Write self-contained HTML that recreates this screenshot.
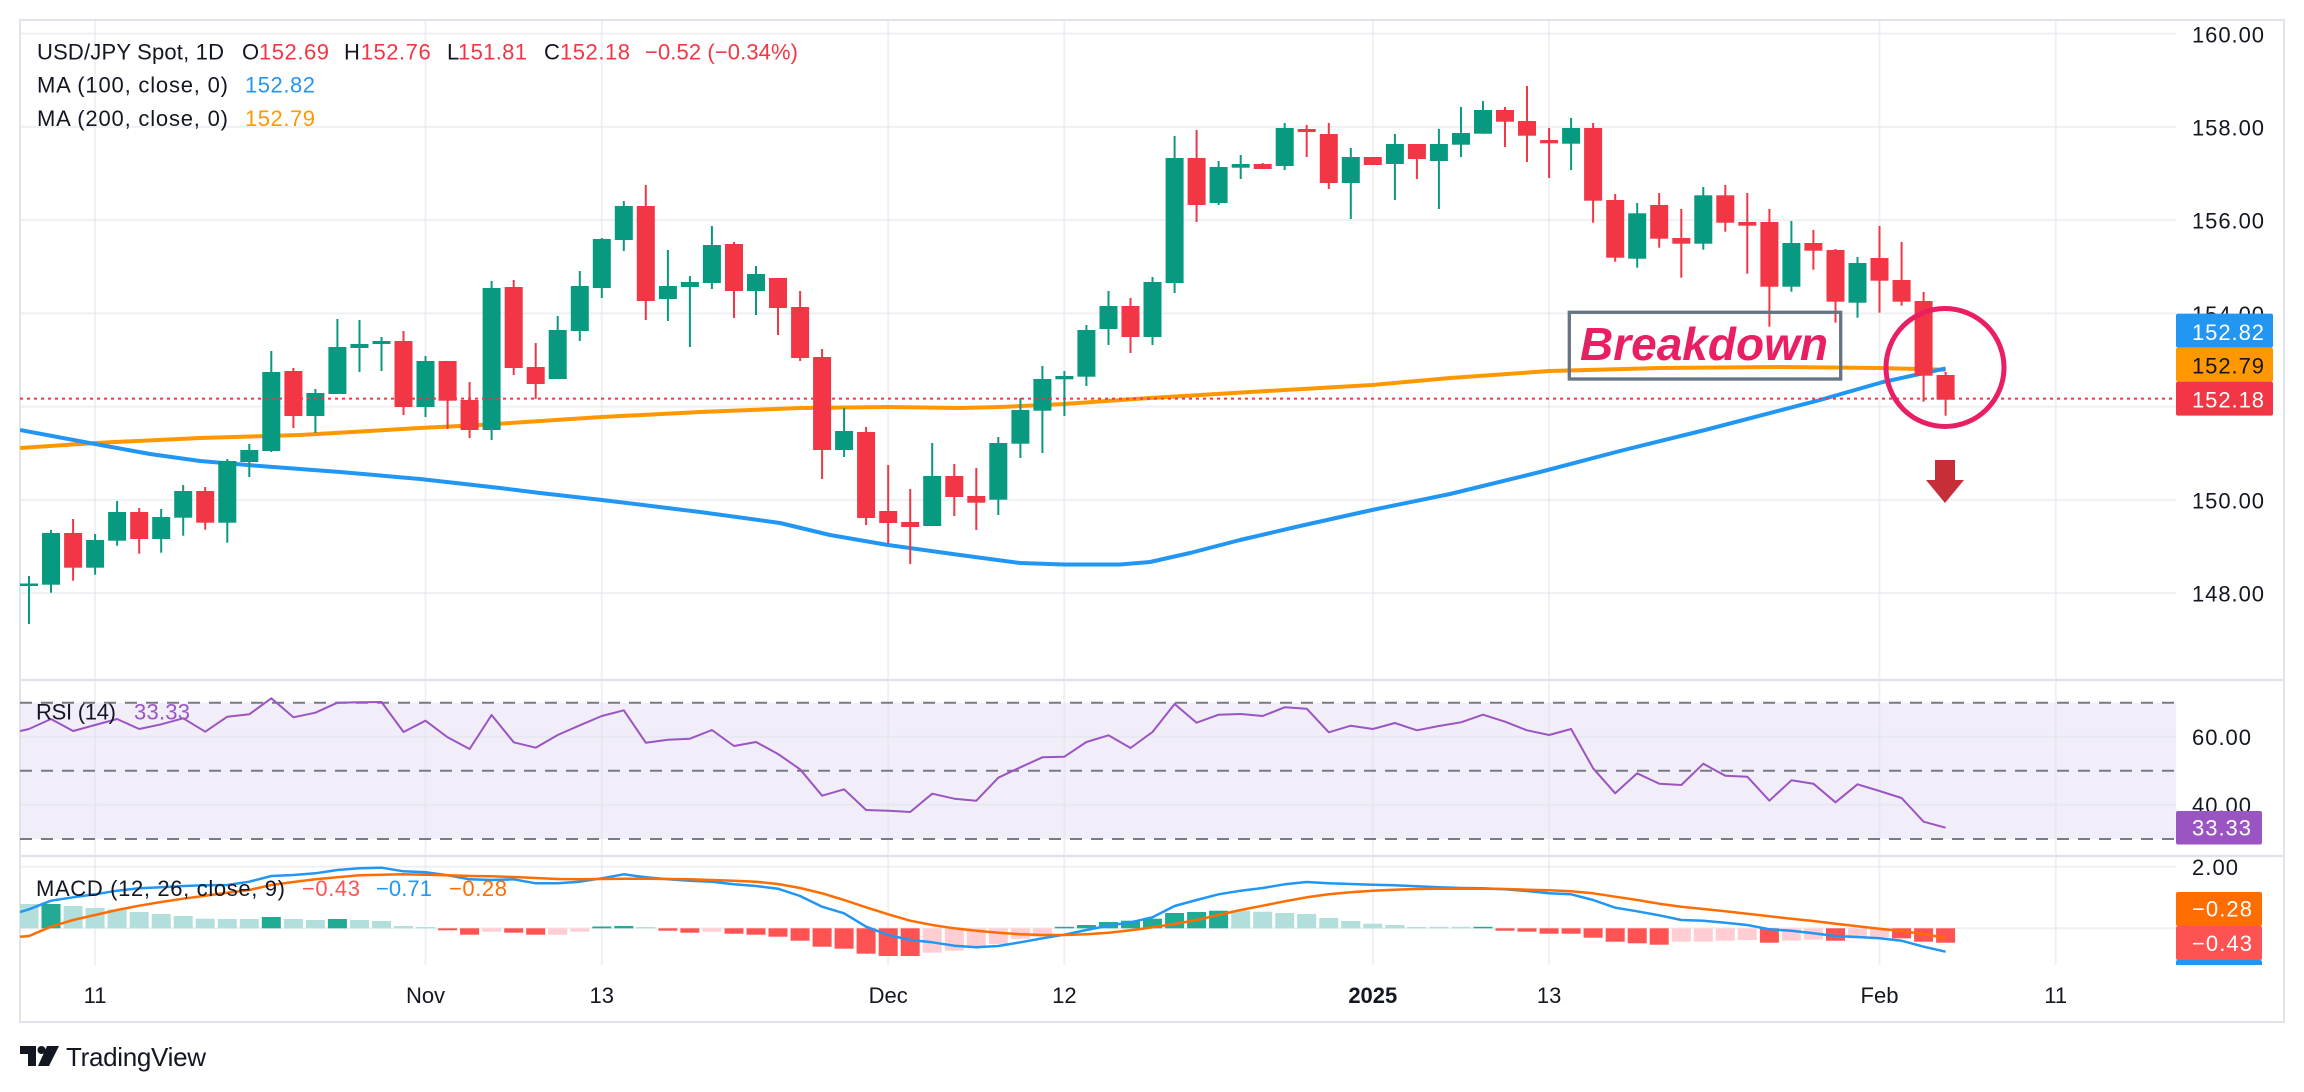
<!DOCTYPE html>
<html><head><meta charset="utf-8"><style>html,body{margin:0;padding:0;background:#fff;width:2304px;height:1092px;overflow:hidden}svg{display:block}</style></head><body>
<svg width="2304" height="1092" viewBox="0 0 2304 1092" xmlns="http://www.w3.org/2000/svg" font-family="'Liberation Sans', Arial, sans-serif">
<defs>
<clipPath id="cm"><rect x="20" y="20" width="2156" height="660"/></clipPath>
<clipPath id="cr"><rect x="20" y="681" width="2156" height="174"/></clipPath>
<clipPath id="cd"><rect x="20" y="857" width="2156" height="108"/></clipPath>
<clipPath id="cdl"><rect x="2176" y="857" width="110" height="108"/></clipPath>
</defs>
<rect width="2304" height="1092" fill="#fff"/>
<!-- RSI fill -->
<rect x="20" y="702.7" width="2156" height="136.3" fill="#f1edf9"/>
<!-- grid -->
<g stroke="#e0e3eb" stroke-opacity="0.55" stroke-width="2">
<line x1="20" y1="33.6" x2="2176" y2="33.6"/><line x1="20" y1="126.9" x2="2176" y2="126.9"/><line x1="20" y1="220.1" x2="2176" y2="220.1"/><line x1="20" y1="313.4" x2="2176" y2="313.4"/><line x1="20" y1="406.6" x2="2176" y2="406.6"/><line x1="20" y1="499.9" x2="2176" y2="499.9"/><line x1="20" y1="593.1" x2="2176" y2="593.1"/>
<line x1="20" y1="736.7" x2="2176" y2="736.7"/><line x1="20" y1="804.7" x2="2176" y2="804.7"/>
<line x1="20" y1="866.7" x2="2176" y2="866.7"/><line x1="20" y1="928.3" x2="2176" y2="928.3"/>
<line x1="95.1" y1="20" x2="95.1" y2="965"/><line x1="425.5" y1="20" x2="425.5" y2="965"/><line x1="601.8" y1="20" x2="601.8" y2="965"/><line x1="888.2" y1="20" x2="888.2" y2="965"/><line x1="1064.4" y1="20" x2="1064.4" y2="965"/><line x1="1372.8" y1="20" x2="1372.8" y2="965"/><line x1="1549.1" y1="20" x2="1549.1" y2="965"/><line x1="1879.5" y1="20" x2="1879.5" y2="965"/><line x1="2055.7" y1="20" x2="2055.7" y2="965"/>
</g>
<!-- frame & separators -->
<rect x="20" y="20" width="2264" height="1002" fill="none" stroke="#e0e3eb" stroke-width="2"/>
<line x1="20" y1="680" x2="2284" y2="680" stroke="#e0e3eb" stroke-width="2.5"/>
<line x1="20" y1="856" x2="2284" y2="856" stroke="#e0e3eb" stroke-width="2.5"/>

<!-- MAIN PANE -->
<g clip-path="url(#cm)">
<polyline fill="none" stroke="#ff9800" stroke-width="4" stroke-linejoin="round" points="20,448 95,443 200,438 300,435 420,428 480,425 602,417 700,412 800,408 888,407 960,408 1000,407 1064,404 1150,398 1250,392 1372,385 1450,378 1549,371 1660,368 1780,367 1880,368 1945.6,369.8"/>
<polyline fill="none" stroke="#2196f3" stroke-width="4" stroke-linejoin="round" points="20,430 95,444 150,454 200,461 260,466 340,472 420,479 500,488 540,493 602,500 700,512 780,523 830,535 888,545 960,555 1020,563 1064,564.5 1120,564.5 1150,562 1190,553 1240,540 1300,526 1372,510 1450,494 1540,472 1620,451 1705,430 1820,400 1883,382 1945.6,368.4"/>
<g fill="#089981">
<rect x="28" y="576" width="2" height="48"/><rect x="20" y="583.5" width="18" height="2.5"/>
<rect x="50" y="530" width="2" height="62.7"/><rect x="42" y="533" width="18" height="51.7"/>
<rect x="94.1" y="534" width="2" height="40.7"/><rect x="86.1" y="540" width="18" height="27.7"/>
<rect x="116.1" y="501" width="2" height="44.7"/><rect x="108.1" y="512" width="18" height="28.7"/>
<rect x="160.2" y="509" width="2" height="43.7"/><rect x="152.2" y="517" width="18" height="22"/>
<rect x="182.2" y="485" width="2" height="50.7"/><rect x="174.2" y="491" width="18" height="26.7"/>
<rect x="226.3" y="459" width="2" height="83.7"/><rect x="218.3" y="461" width="18" height="61.7"/>
<rect x="248.3" y="444" width="2" height="33"/><rect x="240.3" y="450" width="18" height="12"/>
<rect x="270.3" y="351" width="2" height="101"/><rect x="262.3" y="372" width="18" height="79"/>
<rect x="314.4" y="389" width="2" height="44"/><rect x="306.4" y="393" width="18" height="23"/>
<rect x="336.4" y="319" width="2" height="75"/><rect x="328.4" y="347" width="18" height="47"/>
<rect x="358.5" y="320" width="2" height="52"/><rect x="350.5" y="344" width="18" height="4"/>
<rect x="380.5" y="337" width="2" height="34"/><rect x="372.5" y="341" width="18" height="3"/>
<rect x="424.5" y="356" width="2" height="61"/><rect x="416.5" y="361" width="18" height="46"/>
<rect x="490.6" y="281" width="2" height="159"/><rect x="482.6" y="288" width="18" height="142"/>
<rect x="556.7" y="316" width="2" height="63"/><rect x="548.7" y="330" width="18" height="49"/>
<rect x="578.8" y="271" width="2" height="70"/><rect x="570.8" y="286" width="18" height="45"/>
<rect x="600.8" y="238" width="2" height="60"/><rect x="592.8" y="239" width="18" height="49"/>
<rect x="622.8" y="201" width="2" height="50"/><rect x="614.8" y="206" width="18" height="34"/>
<rect x="666.9" y="250" width="2" height="71"/><rect x="658.9" y="286" width="18" height="13"/>
<rect x="688.9" y="276" width="2" height="71"/><rect x="680.9" y="282" width="18" height="5"/>
<rect x="710.9" y="226" width="2" height="63"/><rect x="702.9" y="245" width="18" height="38"/>
<rect x="755" y="266" width="2" height="49"/><rect x="747" y="274" width="18" height="17"/>
<rect x="843.1" y="408" width="2" height="49"/><rect x="835.1" y="431" width="18" height="19"/>
<rect x="931.2" y="443" width="2" height="83"/><rect x="923.2" y="476" width="18" height="50"/>
<rect x="997.3" y="437" width="2" height="78"/><rect x="989.3" y="443" width="18" height="56.7"/>
<rect x="1019.4" y="398" width="2" height="60"/><rect x="1011.4" y="410" width="18" height="33.7"/>
<rect x="1041.4" y="366" width="2" height="87"/><rect x="1033.4" y="379" width="18" height="31.7"/>
<rect x="1063.4" y="371" width="2" height="45"/><rect x="1055.4" y="376" width="18" height="3.3"/>
<rect x="1085.4" y="325" width="2" height="61"/><rect x="1077.4" y="330" width="18" height="46.7"/>
<rect x="1107.5" y="291" width="2" height="54"/><rect x="1099.5" y="306" width="18" height="23"/>
<rect x="1151.5" y="277" width="2" height="68"/><rect x="1143.5" y="282" width="18" height="55"/>
<rect x="1173.6" y="136" width="2" height="157"/><rect x="1165.6" y="158" width="18" height="125"/>
<rect x="1217.6" y="161" width="2" height="44"/><rect x="1209.6" y="167" width="18" height="36"/>
<rect x="1239.7" y="155" width="2" height="24"/><rect x="1231.7" y="164" width="18" height="3.7"/>
<rect x="1283.7" y="123" width="2" height="47"/><rect x="1275.7" y="128" width="18" height="38"/>
<rect x="1349.8" y="148" width="2" height="71"/><rect x="1341.8" y="157" width="18" height="26"/>
<rect x="1393.9" y="134" width="2" height="66"/><rect x="1385.9" y="144" width="18" height="20"/>
<rect x="1437.9" y="129" width="2" height="80"/><rect x="1429.9" y="144" width="18" height="17"/>
<rect x="1460" y="107" width="2" height="50"/><rect x="1452" y="133" width="18" height="11.7"/>
<rect x="1482" y="101" width="2" height="32.7"/><rect x="1474" y="110" width="18" height="23.7"/>
<rect x="1570.1" y="118" width="2" height="52"/><rect x="1562.1" y="128" width="18" height="15.7"/>
<rect x="1636.2" y="203" width="2" height="64.7"/><rect x="1628.2" y="213.3" width="18" height="45.4"/>
<rect x="1702.3" y="187" width="2" height="62.7"/><rect x="1694.3" y="195.3" width="18" height="48.4"/>
<rect x="1790.4" y="221" width="2" height="70.7"/><rect x="1782.4" y="243" width="18" height="43.7"/>
<rect x="1856.5" y="257" width="2" height="60.7"/><rect x="1848.5" y="263" width="18" height="39.7"/>
</g>
<g fill="#f23645">
<rect x="72.1" y="519" width="2" height="61.7"/><rect x="64.1" y="533" width="18" height="34.7"/>
<rect x="138.2" y="508" width="2" height="45.7"/><rect x="130.2" y="512" width="18" height="27"/>
<rect x="204.2" y="487" width="2" height="42.7"/><rect x="196.2" y="491" width="18" height="31.7"/>
<rect x="292.4" y="368" width="2" height="60"/><rect x="284.4" y="371" width="18" height="45"/>
<rect x="402.5" y="331" width="2" height="84"/><rect x="394.5" y="341" width="18" height="66"/>
<rect x="446.6" y="361" width="2" height="68"/><rect x="438.6" y="361" width="18" height="39.7"/>
<rect x="468.6" y="382" width="2" height="56"/><rect x="460.6" y="400" width="18" height="30"/>
<rect x="512.7" y="280" width="2" height="95"/><rect x="504.7" y="287" width="18" height="81"/>
<rect x="534.7" y="343" width="2" height="56"/><rect x="526.7" y="367" width="18" height="17"/>
<rect x="644.8" y="185" width="2" height="135"/><rect x="636.8" y="206" width="18" height="95"/>
<rect x="733" y="242" width="2" height="76"/><rect x="725" y="244" width="18" height="47"/>
<rect x="777" y="278" width="2" height="57"/><rect x="769" y="278" width="18" height="30"/>
<rect x="799.1" y="291" width="2" height="70"/><rect x="791.1" y="307" width="18" height="51"/>
<rect x="821.1" y="349" width="2" height="130"/><rect x="813.1" y="357" width="18" height="93"/>
<rect x="865.1" y="427" width="2" height="98"/><rect x="857.1" y="432" width="18" height="86"/>
<rect x="887.2" y="465" width="2" height="79"/><rect x="879.2" y="511" width="18" height="12"/>
<rect x="909.2" y="489" width="2" height="75"/><rect x="901.2" y="522" width="18" height="5"/>
<rect x="953.3" y="464" width="2" height="52"/><rect x="945.3" y="476" width="18" height="21"/>
<rect x="975.3" y="468" width="2" height="62"/><rect x="967.3" y="496" width="18" height="6.7"/>
<rect x="1129.5" y="298" width="2" height="55"/><rect x="1121.5" y="306" width="18" height="31"/>
<rect x="1195.6" y="130" width="2" height="92"/><rect x="1187.6" y="158" width="18" height="47"/>
<rect x="1261.7" y="163" width="2" height="6"/><rect x="1253.7" y="164" width="18" height="5"/>
<rect x="1305.7" y="125" width="2" height="32"/><rect x="1297.7" y="129" width="18" height="3"/>
<rect x="1327.8" y="123" width="2" height="66"/><rect x="1319.8" y="134" width="18" height="49"/>
<rect x="1371.8" y="157" width="2" height="8"/><rect x="1363.8" y="157" width="18" height="8"/>
<rect x="1415.9" y="144" width="2" height="35"/><rect x="1407.9" y="144" width="18" height="15"/>
<rect x="1504" y="107" width="2" height="40"/><rect x="1496" y="110" width="18" height="11.7"/>
<rect x="1526" y="86" width="2" height="76"/><rect x="1518" y="121" width="18" height="14.7"/>
<rect x="1548.1" y="128" width="2" height="50"/><rect x="1540.1" y="140" width="18" height="3.3"/>
<rect x="1592.1" y="123" width="2" height="99.7"/><rect x="1584.1" y="128" width="18" height="72.7"/>
<rect x="1614.2" y="194" width="2" height="67.7"/><rect x="1606.2" y="200" width="18" height="57.7"/>
<rect x="1658.2" y="193" width="2" height="54.7"/><rect x="1650.2" y="205" width="18" height="33.7"/>
<rect x="1680.3" y="209" width="2" height="68.7"/><rect x="1672.3" y="238" width="18" height="5.7"/>
<rect x="1724.3" y="185" width="2" height="46.7"/><rect x="1716.3" y="195.3" width="18" height="27.4"/>
<rect x="1746.3" y="193" width="2" height="80.7"/><rect x="1738.3" y="222" width="18" height="3.7"/>
<rect x="1768.4" y="209" width="2" height="117.7"/><rect x="1760.4" y="222" width="18" height="64.7"/>
<rect x="1812.4" y="230" width="2" height="39.7"/><rect x="1804.4" y="243" width="18" height="7.7"/>
<rect x="1834.5" y="249" width="2" height="73.7"/><rect x="1826.5" y="250" width="18" height="51.7"/>
<rect x="1878.5" y="226" width="2" height="86.7"/><rect x="1870.5" y="258" width="18" height="22.7"/>
<rect x="1900.6" y="242" width="2" height="63.7"/><rect x="1892.6" y="280" width="18" height="21.7"/>
<rect x="1922.6" y="292" width="2" height="109.7"/><rect x="1914.6" y="301" width="18" height="74.7"/>
<rect x="1944.6" y="372" width="2" height="43.7"/><rect x="1936.6" y="375" width="18" height="24.7"/>
</g>
<line x1="20" y1="398.6" x2="2176" y2="398.6" stroke="#f23645" stroke-width="2" stroke-dasharray="3 4"/>
<!-- drawings -->
<rect x="1569.3" y="312.3" width="271.4" height="66.7" fill="none" stroke="#647482" stroke-width="3.3"/>
<text x="1580" y="360" font-size="46" font-weight="bold" font-style="italic" fill="#e91e63" textLength="248" lengthAdjust="spacingAndGlyphs">Breakdown</text>
<circle cx="1945" cy="367.5" r="59" fill="none" stroke="#e91e63" stroke-width="5"/>
<rect x="1935" y="460" width="20" height="21" fill="#c62e3a"/>
<polygon points="1926,480 1964,480 1945,503" fill="#c62e3a"/>
</g>

<!-- RSI PANE -->
<g clip-path="url(#cr)">
<g stroke="#787b86" stroke-width="2" stroke-dasharray="12 9">
<line x1="20" y1="702.7" x2="2176" y2="702.7"/><line x1="20" y1="770.7" x2="2176" y2="770.7"/><line x1="20" y1="839" x2="2176" y2="839"/>
</g>
<polyline fill="none" stroke="#9b55c2" stroke-width="2" stroke-linejoin="round" points="20,731 29,729 51,719 73.1,731 95.1,725 117.1,719 139.2,729 161.2,724.3 183.2,718.3 205.2,731.7 227.3,716.7 249.3,714.3 271.3,698.3 293.4,717.3 315.4,712.7 337.4,702.7 359.5,702.3 381.5,702 403.5,732 425.5,720.7 447.6,737.3 469.6,749 491.6,715 513.7,742.3 535.7,747.7 557.7,735 579.8,725.3 601.8,716 623.8,710.3 645.8,742.7 667.9,739.7 689.9,738.7 711.9,730 734,746 756,742 778,754 800.1,769.3 822.1,795.7 844.1,789.3 866.1,810 888.2,810.7 910.2,812 932.2,793.7 954.3,798.7 976.3,800.7 998.3,777.7 1020.4,767.3 1042.4,757.3 1064.4,756.7 1086.4,742 1108.5,735.3 1130.5,748 1152.5,732 1174.6,704 1196.6,722.7 1218.6,714.7 1240.7,714 1262.7,716 1284.7,707.3 1306.7,708.7 1328.8,732.3 1350.8,725.7 1372.8,729 1394.9,723 1416.9,730.3 1438.9,726 1461,722.3 1483,714.7 1505,721.7 1527,730.3 1549.1,735 1571.1,729 1593.1,768.3 1615.2,793.3 1637.2,773.3 1659.2,783.7 1681.3,785 1703.3,763.7 1725.3,775.7 1747.3,776.7 1769.4,800.7 1791.4,780.3 1813.4,783.7 1835.5,802.3 1857.5,784.3 1879.5,791 1901.6,798 1923.6,821.7 1945.6,827.7"/>
</g>

<!-- MACD PANE -->
<g clip-path="url(#cd)">
<g fill="#22ab94">
<rect x="41.5" y="904" width="19" height="24.3"/><rect x="261.8" y="917" width="19" height="11.3"/><rect x="327.9" y="919" width="19" height="9.3"/><rect x="592.3" y="926.5" width="19" height="1.8"/><rect x="614.3" y="926" width="19" height="2.3"/><rect x="1054.9" y="926.8" width="19" height="1.5"/><rect x="1076.9" y="925" width="19" height="3.3"/><rect x="1099" y="922" width="19" height="6.3"/><rect x="1121" y="920.7" width="19" height="7.6"/><rect x="1143" y="918.7" width="19" height="9.6"/><rect x="1165.1" y="913" width="19" height="15.3"/><rect x="1187.1" y="912" width="19" height="16.3"/><rect x="1209.1" y="910.7" width="19" height="17.6"/><rect x="1473.5" y="926.8" width="19" height="1.5"/>
</g>
<g fill="#b2dfdb">
<rect x="19.5" y="904" width="19" height="24.3"/><rect x="63.6" y="906" width="19" height="22.3"/><rect x="85.6" y="908" width="19" height="20.3"/><rect x="107.6" y="909.3" width="19" height="19"/><rect x="129.7" y="912" width="19" height="16.3"/><rect x="151.7" y="914" width="19" height="14.3"/><rect x="173.7" y="916" width="19" height="12.3"/><rect x="195.7" y="918.7" width="19" height="9.6"/><rect x="217.8" y="919" width="19" height="9.3"/><rect x="239.8" y="919" width="19" height="9.3"/><rect x="283.9" y="919" width="19" height="9.3"/><rect x="305.9" y="920" width="19" height="8.3"/><rect x="350" y="920" width="19" height="8.3"/><rect x="372" y="921" width="19" height="7.3"/><rect x="394" y="926" width="19" height="2.3"/><rect x="416" y="927" width="19" height="1.3"/><rect x="636.3" y="927" width="19" height="1.3"/><rect x="1231.2" y="910.7" width="19" height="17.6"/><rect x="1253.2" y="911.7" width="19" height="16.6"/><rect x="1275.2" y="913" width="19" height="15.3"/><rect x="1297.2" y="914" width="19" height="14.3"/><rect x="1319.3" y="918" width="19" height="10.3"/><rect x="1341.3" y="921" width="19" height="7.3"/><rect x="1363.3" y="923.7" width="19" height="4.6"/><rect x="1385.4" y="925" width="19" height="3.3"/><rect x="1407.4" y="927" width="19" height="1.3"/><rect x="1429.4" y="926.8" width="19" height="1.5"/><rect x="1451.5" y="926.8" width="19" height="1.5"/>
</g>
<g fill="#ff5252">
<rect x="438.1" y="928.3" width="19" height="2"/><rect x="460.1" y="928.3" width="19" height="6.4"/><rect x="504.2" y="928.3" width="19" height="4.4"/><rect x="526.2" y="928.3" width="19" height="6.4"/><rect x="658.4" y="928.3" width="19" height="2.4"/><rect x="680.4" y="928.3" width="19" height="4.4"/><rect x="724.5" y="928.3" width="19" height="5.4"/><rect x="746.5" y="928.3" width="19" height="6.4"/><rect x="768.5" y="928.3" width="19" height="8.4"/><rect x="790.6" y="928.3" width="19" height="12.4"/><rect x="812.6" y="928.3" width="19" height="18.4"/><rect x="834.6" y="928.3" width="19" height="20.4"/><rect x="856.6" y="928.3" width="19" height="25.4"/><rect x="878.7" y="928.3" width="19" height="27.7"/><rect x="900.7" y="928.3" width="19" height="27.7"/><rect x="1495.5" y="928.3" width="19" height="2.4"/><rect x="1517.5" y="928.3" width="19" height="3.4"/><rect x="1539.6" y="928.3" width="19" height="5.4"/><rect x="1561.6" y="928.3" width="19" height="5.4"/><rect x="1583.6" y="928.3" width="19" height="9.4"/><rect x="1605.7" y="928.3" width="19" height="13.4"/><rect x="1627.7" y="928.3" width="19" height="15"/><rect x="1649.7" y="928.3" width="19" height="16.4"/><rect x="1759.9" y="928.3" width="19" height="14.4"/><rect x="1826" y="928.3" width="19" height="12.4"/><rect x="1892.1" y="928.3" width="19" height="10"/><rect x="1914.1" y="928.3" width="19" height="13.4"/><rect x="1936.1" y="928.3" width="19" height="14.4"/>
</g>
<g fill="#ffcdd2">
<rect x="482.1" y="928.3" width="19" height="3.4"/><rect x="548.2" y="928.3" width="19" height="6.4"/><rect x="570.3" y="928.3" width="19" height="3.4"/><rect x="702.4" y="928.3" width="19" height="3.4"/><rect x="922.7" y="928.3" width="19" height="24.4"/><rect x="944.8" y="928.3" width="19" height="22.4"/><rect x="966.8" y="928.3" width="19" height="18.4"/><rect x="988.8" y="928.3" width="19" height="15.7"/><rect x="1010.9" y="928.3" width="19" height="10.4"/><rect x="1032.9" y="928.3" width="19" height="8.4"/><rect x="1671.8" y="928.3" width="19" height="13.4"/><rect x="1693.8" y="928.3" width="19" height="13.4"/><rect x="1715.8" y="928.3" width="19" height="12.4"/><rect x="1737.8" y="928.3" width="19" height="11.7"/><rect x="1781.9" y="928.3" width="19" height="12.4"/><rect x="1803.9" y="928.3" width="19" height="11.4"/><rect x="1848" y="928.3" width="19" height="10"/><rect x="1870" y="928.3" width="19" height="9"/>
</g>
<polyline fill="none" stroke="#2196f3" stroke-width="2.5" stroke-linejoin="round" points="20,912 29,909.3 51,900.7 73.1,897.3 95.1,894.3 117.1,890.7 139.2,888.3 161.2,887.3 183.2,886 205.2,885.3 227.3,885 249.3,881.7 271.3,876 293.4,875 315.4,873.3 337.4,870 359.5,868.3 381.5,867.7 403.5,871.3 425.5,872.3 447.6,875.3 469.6,879.3 491.6,880 513.7,879.3 535.7,883.3 557.7,883.3 579.8,881.7 601.8,878.3 623.8,874.3 645.8,877.3 667.9,879.3 689.9,880.7 711.9,881.7 734,884.3 756,886 778,888.7 800.1,896 822.1,906.7 844.1,913.3 866.1,926.7 888.2,935 910.2,940 932.2,942.3 954.3,945.7 976.3,947.3 998.3,946 1020.4,942.3 1042.4,938.3 1064.4,934.7 1086.4,930 1108.5,925.7 1130.5,922.3 1152.5,917.3 1174.6,906 1196.6,900 1218.6,894.3 1240.7,890.7 1262.7,888 1284.7,884.3 1306.7,882 1328.8,883.3 1350.8,884 1372.8,884.7 1394.9,885.3 1416.9,886.3 1438.9,887.3 1461,888 1483,888.3 1505,889.3 1527,891 1549.1,893.3 1571.1,894.3 1593.1,900 1615.2,907.7 1637.2,911.3 1659.2,915.3 1681.3,920 1703.3,920.7 1725.3,922.7 1747.3,925 1769.4,929.3 1791.4,930.7 1813.4,933.3 1835.5,936 1857.5,937 1879.5,938.3 1901.6,940.7 1923.6,946.7 1945.6,951.7"/>
<polyline fill="none" stroke="#ff6d00" stroke-width="2.5" stroke-linejoin="round" points="20,936.7 29,936 51,926.7 73.1,920 95.1,915 117.1,910 139.2,905.7 161.2,902 183.2,898.7 205.2,895.7 227.3,892.7 249.3,890 271.3,885 293.4,882 315.4,879.3 337.4,877.3 359.5,875.3 381.5,874.7 403.5,874.3 425.5,874.7 447.6,875.3 469.6,876 491.6,876.3 513.7,877 535.7,878 557.7,879 579.8,879.3 601.8,879 623.8,878.7 645.8,878.7 667.9,879 689.9,879.3 711.9,880 734,880.7 756,881.7 778,884 800.1,888 822.1,893.3 844.1,900 866.1,907.3 888.2,914.3 910.2,920.7 932.2,925 954.3,928.3 976.3,930.7 998.3,932.7 1020.4,934.3 1042.4,935 1064.4,935 1086.4,934.3 1108.5,932.7 1130.5,930.3 1152.5,927.3 1174.6,924 1196.6,920 1218.6,915 1240.7,910 1262.7,905.7 1284.7,901.3 1306.7,897.3 1328.8,894.3 1350.8,892.3 1372.8,890.7 1394.9,889.7 1416.9,889 1438.9,888.7 1461,888.7 1483,888.7 1505,889 1527,889.7 1549.1,890.3 1571.1,891.3 1593.1,893.3 1615.2,896.7 1637.2,900 1659.2,903.7 1681.3,906.7 1703.3,909 1725.3,911.3 1747.3,913.7 1769.4,916.3 1791.4,918.7 1813.4,921 1835.5,923.7 1857.5,926.3 1879.5,928.7 1901.6,931 1923.6,934 1945.6,938"/>
</g>

<!-- legends -->
<g font-size="22" fill="#131722">
<text x="37" y="59.5" textLength="187" lengthAdjust="spacing">USD/JPY Spot, 1D</text>
<text x="242" y="59.5">O</text><text x="259" y="59.5" fill="#f23645" textLength="70" lengthAdjust="spacing">152.69</text>
<text x="344" y="59.5">H</text><text x="360.7" y="59.5" fill="#f23645" textLength="70" lengthAdjust="spacing">152.76</text>
<text x="447" y="59.5">L</text><text x="458" y="59.5" fill="#f23645" textLength="69" lengthAdjust="spacing">151.81</text>
<text x="544" y="59.5">C</text><text x="560" y="59.5" fill="#f23645" textLength="70" lengthAdjust="spacing">152.18</text>
<text x="645" y="59.5" fill="#f23645" textLength="153" lengthAdjust="spacing">−0.52 (−0.34%)</text>
<text x="37" y="92.7" textLength="191" lengthAdjust="spacing">MA (100, close, 0)</text>
<text x="245" y="92.7" fill="#2196f3" textLength="70" lengthAdjust="spacing">152.82</text>
<text x="37" y="126" textLength="191" lengthAdjust="spacing">MA (200, close, 0)</text>
<text x="245" y="126" fill="#ff9800" textLength="70" lengthAdjust="spacing">152.79</text>
<text x="36" y="719.3" textLength="80" lengthAdjust="spacing">RSI (14)</text>
<text x="134" y="719.3" fill="#9b55c2" textLength="56" lengthAdjust="spacing">33.33</text>
<text x="36" y="896" textLength="249" lengthAdjust="spacing">MACD (12, 26, close, 9)</text>
<text x="302" y="896" fill="#ff5252" textLength="58" lengthAdjust="spacing">−0.43</text>
<text x="376" y="896" fill="#2196f3" textLength="56" lengthAdjust="spacing">−0.71</text>
<text x="449" y="896" fill="#ff6d00" textLength="58" lengthAdjust="spacing">−0.28</text>
</g>

<!-- price axis -->
<g font-size="22" fill="#131722">
<text x="2192" y="42.7" textLength="72" lengthAdjust="spacing">160.00</text>
<text x="2192" y="135.5" textLength="72" lengthAdjust="spacing">158.00</text>
<text x="2192" y="228.7" textLength="72" lengthAdjust="spacing">156.00</text>
<text x="2192" y="322" textLength="72" lengthAdjust="spacing">154.00</text>
<text x="2192" y="415.2" textLength="72" lengthAdjust="spacing">152.00</text>
<text x="2192" y="508.5" textLength="72" lengthAdjust="spacing">150.00</text>
<text x="2192" y="601.7" textLength="72" lengthAdjust="spacing">148.00</text>
<text x="2192" y="745" textLength="59" lengthAdjust="spacing">60.00</text>
<text x="2192" y="813" textLength="59" lengthAdjust="spacing">40.00</text>
<text x="2192" y="875" textLength="46" lengthAdjust="spacing">2.00</text>
</g>
<rect x="2176" y="313.6" width="97" height="34" rx="2" fill="#2196f3"/>
<rect x="2176" y="347.6" width="97" height="34" rx="2" fill="#ff9800"/>
<rect x="2176" y="381.6" width="97" height="34" rx="2" fill="#f23645"/>
<g font-size="22">
<text x="2192" y="340" fill="#fff" textLength="72" lengthAdjust="spacing">152.82</text>
<text x="2192" y="373.6" fill="#131722" textLength="72" lengthAdjust="spacing">152.79</text>
<text x="2192" y="407.5" fill="#fff" textLength="72" lengthAdjust="spacing">152.18</text>
</g>
<rect x="2176" y="811" width="86" height="33.5" rx="2" fill="#9b55c2"/>
<text x="2192" y="835.7" font-size="22" fill="#fff" textLength="59" lengthAdjust="spacing">33.33</text>
<g clip-path="url(#cdl)">
<rect x="2176" y="892" width="86" height="34" rx="2" fill="#ff6d00"/>
<rect x="2176" y="926" width="86" height="34" rx="2" fill="#ff5252"/>
<rect x="2176" y="960" width="86" height="34" rx="2" fill="#2196f3"/>
</g>
<g font-size="22" fill="#fff">
<text x="2192" y="916.7" textLength="60" lengthAdjust="spacing">−0.28</text>
<text x="2192" y="951" textLength="60" lengthAdjust="spacing">−0.43</text>
</g>

<!-- time axis -->
<g font-size="22" fill="#131722" text-anchor="middle">
<text x="95.1" y="1003">11</text>
<text x="425.5" y="1003">Nov</text>
<text x="601.8" y="1003">13</text>
<text x="888.2" y="1003">Dec</text>
<text x="1064.4" y="1003">12</text>
<text x="1372.8" y="1003" font-weight="bold">2025</text>
<text x="1549.1" y="1003">13</text>
<text x="1879.5" y="1003">Feb</text>
<text x="2055.7" y="1003">11</text>
</g>

<!-- logo -->
<g fill="#131722">
<path d="M20 1046 H36 V1066 H28 V1054 H20 Z"/>
<circle cx="41.5" cy="1050" r="4"/>
<polygon points="47,1046 59,1046 49,1066 38,1066"/>
</g>
<text x="66" y="1066" font-size="26" fill="#131722" textLength="140" lengthAdjust="spacing">TradingView</text>
</svg>
</body></html>
